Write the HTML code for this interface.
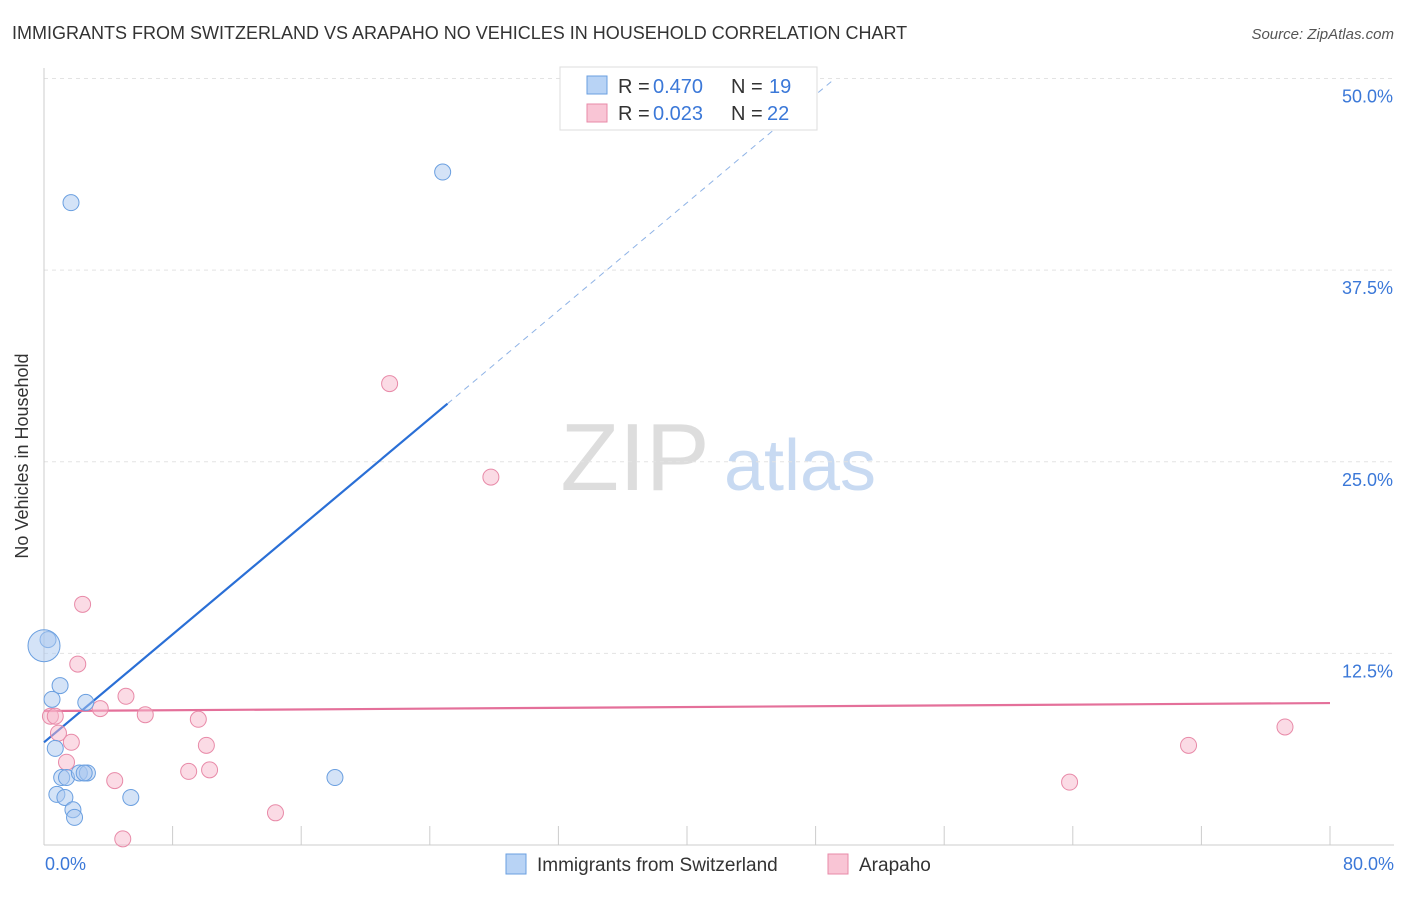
<!DOCTYPE html>
<html><head><meta charset="utf-8"><style>
body{margin:0;background:#fff;font-family:"Liberation Sans",sans-serif;}
svg text{font-family:"Liberation Sans",sans-serif;}
</style></head><body>
<svg id="chart" width="1406" height="892">
<text x="12" y="39" font-size="18" fill="#333">IMMIGRANTS FROM SWITZERLAND VS ARAPAHO NO VEHICLES IN HOUSEHOLD CORRELATION CHART</text>
<text x="1394" y="39" font-size="15" fill="#555" font-style="italic" text-anchor="end">Source: ZipAtlas.com</text>
<text x="28" y="456" font-size="18" fill="#333" text-anchor="middle" transform="rotate(-90 28 456)">No Vehicles in Household</text>
<g><text x="635" y="490" font-size="96" fill="#ddd" font-family="Liberation Serif" text-anchor="middle">ZIP</text><text x="800" y="490" font-size="72" fill="#c8daf2" text-anchor="middle">atlas</text></g>
<g id="grid"></g><g id="axes"></g><g id="lines"></g><g id="pts"></g>
<g>
<rect x="560" y="67" width="257" height="63" fill="#fff" stroke="#ddd"/>
<rect x="587" y="76" width="20" height="18" fill="#b8d3f5" stroke="#6a9fe0"/>
<rect x="587" y="104" width="20" height="18" fill="#f9c5d5" stroke="#e88aa8"/>
<text x="618" y="93" font-size="20" fill="#333">R =</text>
<text x="653" y="93" font-size="20" fill="#3b78d8">0.470</text>
<text x="731" y="93" font-size="20" fill="#333">N =</text>
<text x="769" y="93" font-size="20" fill="#3b78d8">19</text>
<text x="618" y="120" font-size="20" fill="#333">R =</text>
<text x="653" y="120" font-size="20" fill="#3b78d8">0.023</text>
<text x="731" y="120" font-size="20" fill="#333">N =</text>
<text x="767" y="120" font-size="20" fill="#3b78d8">22</text>
</g>
<g>
<rect x="506" y="854" width="20" height="20" fill="#b8d3f5" stroke="#6a9fe0"/>
<text x="537" y="871" font-size="19" fill="#333">Immigrants from Switzerland</text>
<rect x="828" y="854" width="20" height="20" fill="#f9c5d5" stroke="#e88aa8"/>
<text x="859" y="871" font-size="19" fill="#333">Arapaho</text>
</g>
</svg>
<script>
const yTicks=[12.5,25,37.5,50];
const yTickLabels=["12.5%","25.0%","37.5%","50.0%"];
const xTickLabels=["0.0%","80.0%"];
const blueX=[1.68,24.8,0.25,0,1.0,0.5,2.6,0.7,1.1,1.4,2.2,2.7,2.5,0.8,1.3,1.8,1.9,5.4,18.1];
const blueY=[41.9,43.9,13.4,13.0,10.4,9.5,9.3,6.3,4.4,4.4,4.7,4.7,4.7,3.3,3.1,2.3,1.8,3.1,4.4];
const blueR=[8,8,8,16,8,8,8,8,8,8,8,8,8,8,8,8,8,8,8];
const pinkX=[21.5,27.8,2.4,2.1,0.4,0.7,5.1,3.5,6.3,9.6,0.9,1.7,10.1,1.4,9.0,10.3,4.4,14.4,4.9,63.8,71.2,77.2];
const pinkY=[30.1,24.0,15.7,11.8,8.4,8.4,9.7,8.9,8.5,8.2,7.3,6.7,6.5,5.4,4.8,4.9,4.2,2.1,0.4,4.1,6.5,7.7];
const blueLine=[6.7,0.88,25.1,49.2];
const pinkLine=[8.74,9.26];
const X=v=>44+v*16.075, Y=v=>845-v*15.33;
const NS="http://www.w3.org/2000/svg";
function mk(p,t,a){const e=document.createElementNS(NS,t);for(const k in a)e.setAttribute(k,a[k]);document.getElementById(p).appendChild(e);return e;}
yTicks.forEach((t,i)=>{
 const g=mk('grid','line',{x1:44,x2:1394,y1:Y(t),y2:Y(t),stroke:'#e3e3e3','stroke-dasharray':'4 4'});
 
 
 const l=mk('axes','text',{x:1393,y:Y(t)+24,'font-size':18,fill:'#3b78d8','text-anchor':'end'});l.textContent=yTickLabels[i];
 
 
});
const ax=mk('axes','line',{x1:44,x2:44,y1:68,y2:845,stroke:'#ccc'});


const bx=mk('axes','line',{x1:44,x2:1394,y1:845,y2:845,stroke:'#ccc'});


for(let i=0;i<=10;i++){const t=mk('axes','line',{x1:X(i*8),x2:X(i*8),y1:826,y2:845,stroke:'#ccc'});
 
 }
[[0,'start',45],[80,'end',1394]].forEach((d,i)=>{const l=mk('axes','text',{x:d[2],y:870,'font-size':18,fill:'#3b78d8','text-anchor':d[1]});l.textContent=xTickLabels[i];
 
 });
const bl=mk('lines','line',{x1:X(0),y1:Y(blueLine[0]),x2:X(blueLine[2]),y2:Y(blueLine[0]+blueLine[1]*blueLine[2]),stroke:'#2a6fd6','stroke-width':2.2});


const bd=mk('lines','line',{x1:X(blueLine[2]),y1:Y(blueLine[0]+blueLine[1]*blueLine[2]),x2:X(blueLine[3]),y2:Y(blueLine[0]+blueLine[1]*blueLine[3]),stroke:'#8fb3e6','stroke-width':1,'stroke-dasharray':'6 5'});


const pl=mk('lines','line',{x1:X(0),y1:Y(pinkLine[0]),x2:X(80),y2:Y(pinkLine[1]),stroke:'#e4709a','stroke-width':2.2});


pinkX.forEach((x,i)=>{const c=mk('pts','circle',{cx:X(x),cy:Y(pinkY[i]),r:8,fill:'rgba(247,184,203,0.5)',stroke:'#e88aa8','stroke-width':1});
 
 });
blueX.forEach((x,i)=>{const c=mk('pts','circle',{cx:X(x),cy:Y(blueY[i]),r:blueR[i],fill:'rgba(169,200,240,0.5)',stroke:'#6a9fe0','stroke-width':1});
 
 });
</script>
</body></html>
